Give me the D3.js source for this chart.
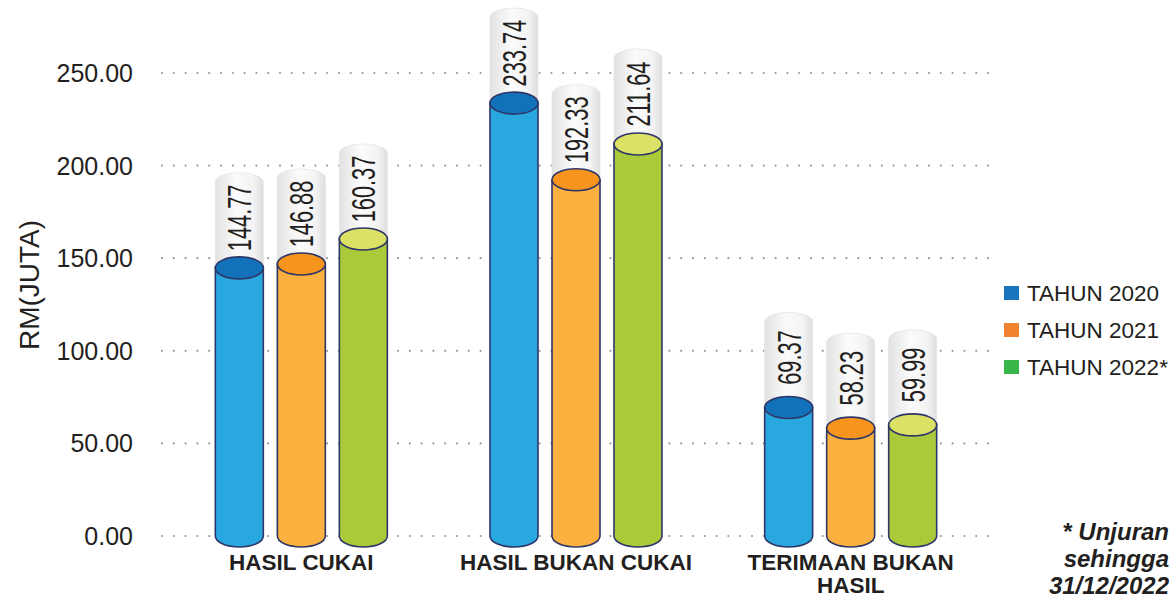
<!DOCTYPE html>
<html>
<head>
<meta charset="utf-8">
<script src="https://cdn.jsdelivr.net/npm/d3@7"></script>
<style>
    body { margin: 0; background: #fff; }
    svg { display: block; font-family: "Liberation Sans", Arial, sans-serif; }
</style>
</head>
<body>
<svg></svg>
<script>
const categories = ["HASIL CUKAI", "HASIL BUKAN CUKAI", "TERIMAAN BUKAN HASIL"];
const years = ["TAHUN 2020", "TAHUN 2021", "TAHUN 2022*"];
const values2020 = [144.77, 233.74, 69.37];
const values2021 = [146.88, 192.33, 58.23];
const values2022 = [160.37, 211.64, 59.99];
const yTicks = [0, 50, 100, 150, 200, 250];
const footnote = ["* Unjuran", "sehingga", "31/12/2022"];

// body colour, top colour, legend colour
const colors = [
    { body: "#29a8e0", top: "#1272b9", legend: "#1a75bc" },
    { body: "#fbb040", top: "#f7941d", legend: "#f0812f" },
    { body: "#abca3a", top: "#dbe165", legend: "#3ab54a" }
];
const seriesValues = [values2020, values2021, values2022];

const svgWidth = 1173, svgHeight = 598;
const svg = d3.select("svg").attr("width", svgWidth).attr("height", svgHeight);

const y = d3.scaleLinear().domain([0, 250]).range([536, 73]);
const x0 = d3.scaleBand().domain(categories).range([164, 988]);
const x1 = d3.scaleBand().domain(years).range([0, x0.bandwidth()])
    .paddingInner(0.226).paddingOuter(0.828);

const rx = x1.bandwidth() / 2, ry = 11;
const outline = "#2e3668";

// gradient for value capsules
const defs = svg.append("defs");
const grad = defs.append("linearGradient").attr("id", "capsule")
    .attr("x1", "0").attr("x2", "1").attr("y1", "0").attr("y2", "0");
grad.append("stop").attr("offset", "0").attr("stop-color", "#e2e2e2");
grad.append("stop").attr("offset", "0.45").attr("stop-color", "#fbfbfb");
grad.append("stop").attr("offset", "0.8").attr("stop-color", "#f3f3f3");
grad.append("stop").attr("offset", "1").attr("stop-color", "#dddddd");

// dotted gridlines
svg.append("g").selectAll("line")
    .data(yTicks).enter().append("line")
    .attr("x1", 162).attr("x2", 992)
    .attr("y1", d => y(d)).attr("y2", d => y(d))
    .attr("stroke", "#9a9a9a")
    .attr("stroke-width", 2.2)
    .attr("stroke-linecap", "round")
    .attr("stroke-dasharray", "0,11.8");

// y tick labels
svg.append("g").selectAll("text")
    .data(yTicks).enter().append("text")
    .attr("x", 133).attr("y", d => y(d))
    .attr("dy", "0.36em")
    .attr("text-anchor", "end")
    .attr("font-size", 25)
    .attr("fill", "#231f20")
    .text(d => d3.format(".2f")(d));

svg.append("text")
    .attr("transform", "translate(29,285) rotate(-90)")
    .attr("text-anchor", "middle")
    .attr("dy", "0.36em")
    .attr("font-size", 28)
    .attr("fill", "#231f20")
    .text("RM(JUTA)");

const bars = [];
categories.forEach(function(c, ci) {
    years.forEach(function(yr, si) {
        bars.push({ cat: c, year: yr, si: si, value: seriesValues[si][ci] });
    });
});

const capH = 95;
const g = svg.append("g");
const bar = g.selectAll("g.bar").data(bars).enter().append("g")
    .attr("class", "bar")
    .attr("transform", d => "translate(" + (x0(d.cat) + x1(d.year)) + ",0)");

// value capsule behind bar
bar.append("path")
    .attr("d", function(d) {
        const top = y(d.value) - capH;
        return "M0," + y(d.value) + " L0," + (top + 9) +
            " A" + rx + ",9 0 0 1 " + (2 * rx) + "," + (top + 9) +
            " L" + (2 * rx) + "," + y(d.value) + " Z";
    })
    .attr("fill", "url(#capsule)")
    .attr("stroke", "#e4e4e4")
    .attr("stroke-width", 0.8);

// tall narrow value labels
bar.append("text")
    .attr("transform", d => "translate(" + rx + "," + (y(d.value) - 50) + ") rotate(-90) scale(0.66,1)")
    .attr("text-anchor", "middle")
    .attr("dy", "0.36em")
    .attr("font-size", 33)
    .attr("fill", "#231f20")
    .text(d => d3.format(".2f")(d.value));

// cylinder body
bar.append("path")
    .attr("d", function(d) {
        return "M0," + y(d.value) + " L0," + y(0) +
            " A" + rx + "," + ry + " 0 0 0 " + (2 * rx) + "," + y(0) +
            " L" + (2 * rx) + "," + y(d.value) + " Z";
    })
    .attr("fill", d => colors[d.si].body)
    .attr("stroke", outline)
    .attr("stroke-width", 1.6);

bar.append("ellipse")
    .attr("cx", rx).attr("cy", d => y(d.value))
    .attr("rx", rx).attr("ry", ry)
    .attr("fill", d => colors[d.si].top)
    .attr("stroke", outline)
    .attr("stroke-width", 1.6);

// category labels
const catLines = { "TERIMAAN BUKAN HASIL": ["TERIMAAN BUKAN", "HASIL"] };
svg.append("g").selectAll("text")
    .data(categories).enter().append("text")
    .attr("x", d => x0(d) + x0.bandwidth() / 2)
    .attr("y", 570)
    .attr("text-anchor", "middle")
    .attr("font-size", 22.5)
    .attr("font-weight", "bold")
    .attr("fill", "#231f20")
    .each(function(d) {
        const lines = catLines[d] || [d];
        d3.select(this).selectAll("tspan").data(lines).enter().append("tspan")
            .attr("x", x0(d) + x0.bandwidth() / 2)
            .attr("dy", (l, i) => i === 0 ? 0 : 23)
            .text(l => l);
    });

// legend
const legend = svg.append("g").selectAll("g")
    .data(years).enter().append("g")
    .attr("transform", (d, i) => "translate(1004," + (293 + i * 37) + ")");
legend.append("rect")
    .attr("x", 0).attr("y", -7)
    .attr("width", 15).attr("height", 14)
    .attr("fill", (d, i) => colors[i].legend);
legend.append("text")
    .attr("x", 23).attr("dy", "0.36em")
    .attr("font-size", 22.5)
    .attr("fill", "#231f20")
    .text(d => d);

// footnote
svg.append("g").selectAll("text")
    .data(footnote).enter().append("text")
    .attr("x", 1169)
    .attr("y", (d, i) => 540 + i * 27)
    .attr("text-anchor", "end")
    .attr("font-size", 24)
    .attr("font-weight", "bold")
    .attr("font-style", "italic")
    .attr("fill", "#231f20")
    .text(d => d);
</script>
</body>
</html>
